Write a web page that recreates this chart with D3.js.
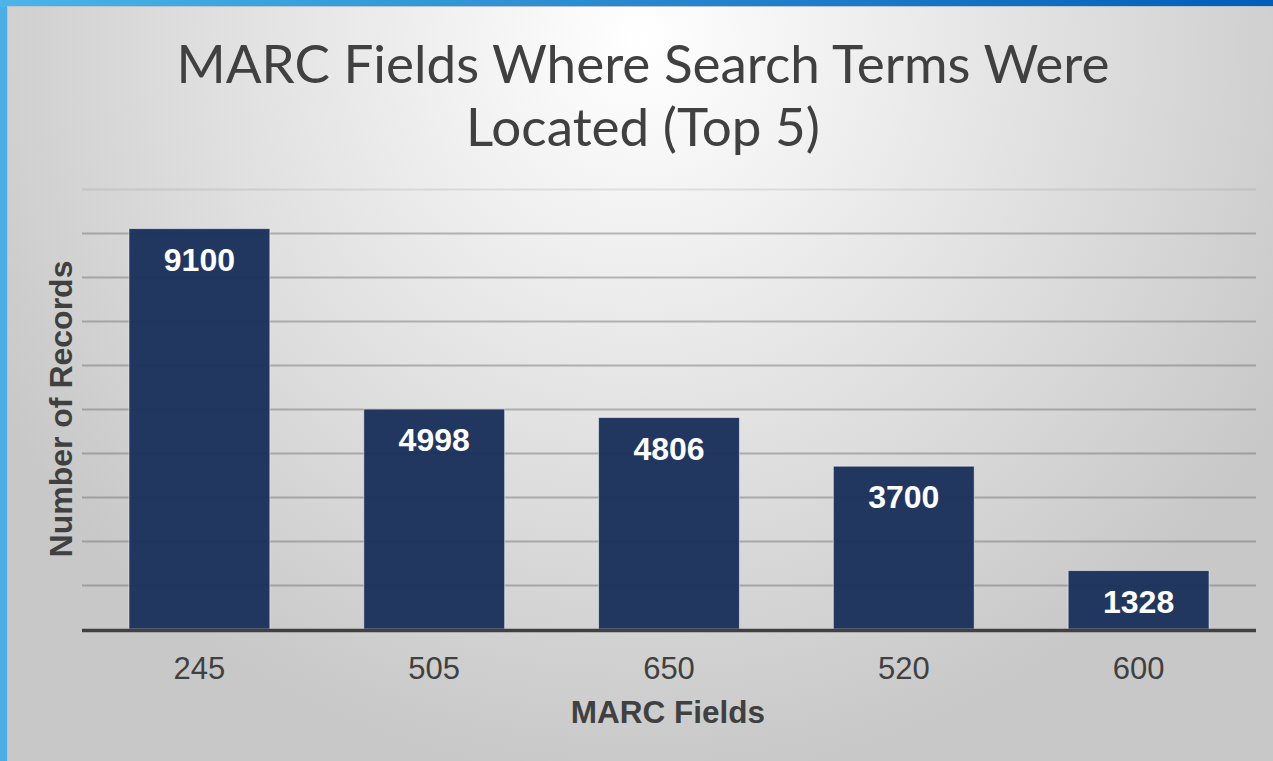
<!DOCTYPE html>
<html>
<head>
<meta charset="utf-8">
<script src="https://cdn.jsdelivr.net/npm/d3@7"></script>
<style>
  body { margin: 0; overflow: hidden; }
  svg { display: block; }
</style>
</head>
<body>
<script>
var fields = ["245", "505", "650", "520", "600"];
var records = [9100, 4998, 4806, 3700, 1328];
var yTicks = [1000, 2000, 3000, 4000, 5000, 6000, 7000, 8000, 9000, 10000];
var titleLines = ["MARC Fields Where Search Terms Were", "Located (Top 5)"];

var width = 1273, height = 761;
var margin = { top: 189, right: 17, bottom: 132, left: 82 };

var svg = d3.select("body").append("svg")
    .attr("width", width)
    .attr("height", height);

var defs = svg.append("defs");

// panel background
var bg = defs.append("radialGradient")
    .attr("id", "bgGrad")
    .attr("gradientUnits", "userSpaceOnUse")
    .attr("cx", 640).attr("cy", 40).attr("r", 740);
bg.append("stop").attr("offset", "0").attr("stop-color", "#ffffff");
bg.append("stop").attr("offset", "0.15").attr("stop-color", "#f7f7f7");
bg.append("stop").attr("offset", "1").attr("stop-color", "#c8c8c8");

// blue frame
var topGrad = defs.append("linearGradient").attr("id", "topGrad");
topGrad.append("stop").attr("offset", "0").attr("stop-color", "#4cb4e8");
topGrad.append("stop").attr("offset", "1").attr("stop-color", "#005eb6");

svg.append("rect").attr("x", 0).attr("y", 0).attr("width", width).attr("height", height)
    .attr("fill", "#4aaee4");
svg.append("rect").attr("x", 0).attr("y", 0).attr("width", width).attr("height", 7)
    .attr("fill", "url(#topGrad)");
svg.append("rect").attr("x", 7).attr("y", 6).attr("width", width - 7).attr("height", height - 6)
    .attr("fill", "#b9c4cc");
svg.append("rect").attr("x", 8).attr("y", 7).attr("width", width - 8).attr("height", height - 7)
    .attr("fill", "url(#bgGrad)");

// title
svg.append("text")
    .attr("text-anchor", "middle")
    .attr("font-family", "Lato")
    .attr("font-weight", 400)
    .attr("font-size", 53)
    .attr("fill", "#404040")
    .selectAll("tspan").data(titleLines).enter().append("tspan")
    .attr("x", 643)
    .attr("y", function(d, i) { return 83 + i * 63; })
    .text(function(d) { return d; });

var g = svg.append("g")
    .attr("transform", "translate(" + margin.left + "," + margin.top + ")");

var w = width - margin.left - margin.right;
var h = height - margin.top - margin.bottom;

var x = d3.scaleBand().domain(fields).range([0, w]).paddingInner(0.4).paddingOuter(0.2);
var y = d3.scaleLinear().domain([0, 10000]).range([h, 0]);

// gridlines
g.append("g").attr("class", "grid")
    .call(d3.axisLeft(y).tickValues(yTicks).tickSize(-w).tickFormat(""))
    .call(function(s) {
        s.select(".domain").remove();
        s.selectAll(".tick line")
            .attr("stroke", "#6a6a6a")
            .attr("stroke-opacity", function(d) { return d === 10000 ? 0.15 : 0.45; })
            .attr("stroke-width", 2);
    });

// bars
g.selectAll(".bar").data(records).enter().append("rect")
    .attr("class", "bar")
    .attr("x", function(d, i) { return x(fields[i]); })
    .attr("y", function(d) { return y(d); })
    .attr("width", x.bandwidth())
    .attr("height", function(d) { return h - y(d); })
    .attr("fill", "#1c325c")
    .attr("fill-opacity", 0.97)
    .attr("stroke", "#ffffff")
    .attr("stroke-opacity", 0.5)
    .attr("stroke-width", 1);

// value labels
g.selectAll(".val").data(records).enter().append("text")
    .attr("class", "val")
    .attr("x", function(d, i) { return x(fields[i]) + x.bandwidth() / 2; })
    .attr("y", function(d) { return y(d) + 42; })
    .attr("text-anchor", "middle")
    .attr("font-family", "Liberation Sans, Arial, sans-serif")
    .attr("font-weight", "bold")
    .attr("font-size", 32)
    .attr("fill", "#ffffff")
    .text(function(d) { return d; });

// x axis
g.append("g").attr("class", "x-axis")
    .attr("transform", "translate(0," + h + ")")
    .call(d3.axisBottom(x).tickSize(0).tickPadding(0))
    .call(function(s) {
        s.select(".domain").remove();
        s.selectAll(".tick text")
            .attr("dy", null)
            .attr("y", 50)
            .attr("font-family", "Liberation Sans, Arial, sans-serif")
            .attr("font-size", 31)
            .attr("fill", "#404040");
    });

g.append("line")
    .attr("x1", 0).attr("x2", w)
    .attr("y1", h + 1.5).attr("y2", h + 1.5)
    .attr("stroke", "#404040")
    .attr("stroke-width", 3.5);

// axis titles
svg.append("text")
    .attr("x", 668)
    .attr("y", 723)
    .attr("text-anchor", "middle")
    .attr("font-family", "Liberation Sans, Arial, sans-serif")
    .attr("font-weight", "bold")
    .attr("font-size", 31.5)
    .attr("fill", "#404040")
    .text("MARC Fields");

svg.append("text")
    .attr("transform", "translate(72,409)rotate(-90)")
    .attr("text-anchor", "middle")
    .attr("font-family", "Liberation Sans, Arial, sans-serif")
    .attr("font-weight", "bold")
    .attr("font-size", 32)
    .attr("fill", "#404040")
    .text("Number of Records");
</script>
</body>
</html>
